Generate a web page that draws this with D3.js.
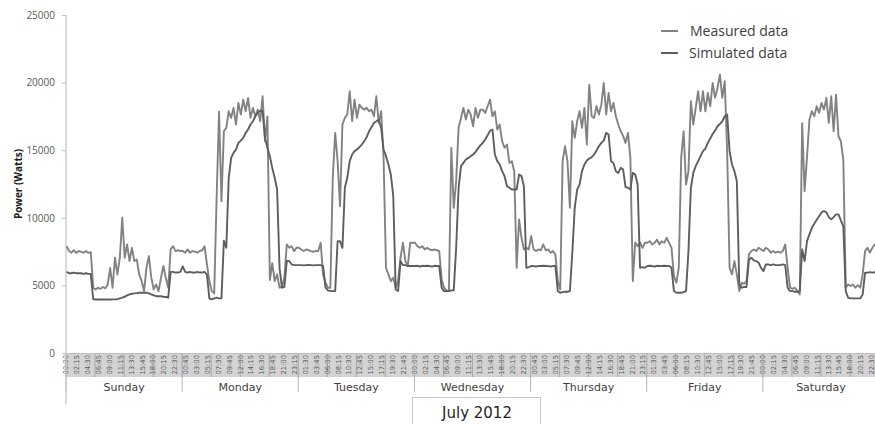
<!DOCTYPE html>
<html>
<head>
<meta charset="utf-8">
<script src="https://cdn.jsdelivr.net/npm/d3@7"></script>
<style>
  body { margin: 0; background: #fff; }
  svg { display: block; }
</style>
</head>
<body>
<div id="chart"></div>
<script>
// Days shown on the category axis (one week of 15-minute slots)
const days = ["Sunday", "Monday", "Tuesday", "Wednesday", "Thursday", "Friday", "Saturday"];

// Readings taken every half hour, one row per day (Watts)
const measured = [
  [7900,7550,7420,7600,7400,7550,7480,7420,7550,7400,7450,4830,4700,4830,4750,4880,4780,5070,6300,4830,7050,5810,7050,10000,7050,8030,6800,7780,6800,6920,5810,5320,4580,6300,7170,5570,4700,5070,4580,5570,6430,5570,4830,7660,7900,7540,7600,7540],
  [7550,7420,7660,7420,7540,7500,7420,7540,7600,7900,6550,5320,4580,4410,11480,17840,11230,16400,16650,17880,17390,18130,16900,18500,17640,18740,17880,18870,17390,18130,17500,18000,17140,18990,15660,17500,5400,6640,5320,5810,4830,4900,5570,8030,7780,7900,7540,7780],
  [7780,7660,7540,7660,7600,7540,7490,7540,7540,8150,5810,5200,4830,4830,12960,16280,14190,10860,16900,17390,17640,19360,17140,18740,17390,18370,18130,18000,18130,17880,18000,17510,18990,17020,17880,14430,6300,5810,5320,5570,4830,5320,7050,8150,6800,6430,8150,8150],
  [8150,7900,7780,7900,7660,7780,7660,7600,7660,7600,7540,5440,4830,4630,4600,15180,10740,12710,16650,17390,18130,17270,18000,17640,16770,18130,17390,18000,18000,17760,18250,18740,17510,17880,16530,16900,15660,15180,15420,14060,14190,13450,6300,9880,8520,7660,7780,7660],
  [8650,7660,7540,7660,7600,8030,7600,7660,7420,7540,7290,5320,4700,14190,15300,14190,10740,17140,15910,17140,17880,16650,18130,15420,19850,17510,17390,18250,17640,18370,19970,17640,19240,17880,18500,17510,16900,16400,16060,15540,16280,14430,5320,8180,7900,8180,7780,8150],
  [8150,8270,8030,8150,8390,8030,8270,8150,8520,8150,7780,5690,5200,6300,14430,16400,12460,13450,18620,16900,18130,19360,17880,19360,17880,19240,18250,19970,18870,19600,20590,18870,20100,14930,6300,5810,6800,5810,4580,5200,5120,5320,7290,7540,7660,7540,7780,7660],
  [7540,7780,7660,7420,7540,7420,7490,7420,7540,8030,6300,4830,4750,4830,4580,4330,17000,11970,14510,17270,17880,17510,18250,17760,18500,18000,18870,17020,18990,16400,19110,16030,15660,14310,4830,5070,4950,5070,4830,5020,4830,5810,7540,7780,7420,7780,8030,7900]
];

const simulated = [
  [6000,5900,5900,5950,5900,5900,5900,5850,5900,5850,5850,3970,3960,3970,3960,3970,3960,3970,3960,3970,3970,3980,4040,4090,4160,4260,4330,4380,4410,4430,4460,4460,4460,4460,4410,4330,4260,4200,4200,4200,4160,4140,4090,6000,6000,5950,5950,6000],
  [6400,6000,5950,6000,5950,5950,6000,5950,5950,6000,5800,4030,3970,4040,4090,4040,4040,8300,7780,12960,14430,14800,15050,15540,15710,15910,16280,16530,16900,17140,17510,17760,17930,17880,15910,15170,14560,13690,12960,12090,6300,4830,4880,6800,6800,6550,6500,6500],
  [6500,6500,6480,6500,6520,6500,6480,6500,6500,6500,6430,4830,4630,4580,4580,4580,8270,8270,7780,12220,12960,14190,14680,14930,15050,15220,15420,15660,15960,16400,16700,17020,17140,17270,16650,15050,14560,13940,13200,11600,4700,4580,6800,6500,6500,6430,6430,6430],
  [6430,6450,6400,6450,6430,6450,6430,6400,6450,6430,6430,4830,4580,4580,4580,4630,4630,7800,12200,13820,14060,14310,14430,14560,14680,14880,15120,15370,15540,15790,16110,16450,16530,14680,14190,13940,13450,13080,12340,12220,12090,12090,12090,13200,13080,12340,6300,6350],
  [6430,6430,6400,6430,6430,6450,6430,6430,6400,6430,6430,4580,4460,4500,4530,4530,4580,7410,10740,12090,12460,13450,13940,14240,14380,14480,14680,14980,15300,15540,15710,16280,16160,14190,14060,13450,13320,13690,13570,12270,12220,12090,13320,13200,12460,6300,6350,6300],
  [6430,6450,6430,6400,6450,6430,6430,6450,6430,6430,6300,4580,4460,4460,4460,4500,4580,7540,12220,13320,13820,14190,14560,14930,15120,15540,15860,16200,16450,16770,16940,17140,17510,17640,14930,13940,13450,12710,5070,4830,4880,4880,6920,7050,6850,6800,6680,6300],
  [6060,6550,6550,6500,6550,6500,6500,6500,6550,6500,4830,4580,4580,4530,4530,4580,7660,6800,8270,8770,9260,9560,9850,10120,10400,10500,10400,10050,9880,10050,10250,10250,9800,9380,4580,4090,4040,4040,4040,4040,4040,4330,5940,5940,5980,5940,5980,5940]
];

const yTicks = [0, 5000, 10000, 15000, 20000, 25000];
const seriesNames = ["Measured data", "Simulated data"];
const seriesColors = ["#828282", "#5e5e5e"];
const periodLabel = "July 2012";

// Chart geometry
const width = 875;
const height = 424;
const plot = { left: 66, right: 879, top: 15, bottom: 353 };
const bandBottom = 377;   // grey time-label band
const slotsPerDay = 96;   // 15-minute categories

const svg = d3.select("#chart")
    .append("svg")
    .attr("width", width)
    .attr("height", height);

svg.append("rect").attr("width", width).attr("height", height).attr("fill", "#fff");

// Scales
const slots = d3.range(days.length * slotsPerDay);
const x = d3.scaleBand().domain(slots).range([plot.left, plot.right]);
const y = d3.scaleLinear().domain([0, 25000]).range([plot.bottom, plot.top]);
const cx = s => x(s) + x.bandwidth() / 2;

// time label for a slot inside a day
const timeLabel = s => {
    const m = (s % slotsPerDay) * 15;
    return String(Math.floor(m / 60)).padStart(2, "0") + ":" + String(m % 60).padStart(2, "0");
};

// Grey category band under the plot
svg.append("rect")
    .attr("x", plot.left)
    .attr("y", plot.bottom)
    .attr("width", plot.right - plot.left)
    .attr("height", bandBottom - plot.bottom)
    .attr("fill", "#d3d3d3");

// Six-hour separators inside the band
svg.append("g")
    .selectAll("line")
    .data(d3.range(0, slots.length, 24))
    .join("line")
    .attr("x1", d => x(d)).attr("x2", d => x(d))
    .attr("y1", plot.bottom).attr("y2", bandBottom)
    .attr("stroke", "#a8a8a8")
    .attr("stroke-width", 1);

// Time labels
const xAxis = d3.axisBottom(x)
    .tickValues(d3.range(0, slots.length, 9))
    .tickFormat(timeLabel)
    .tickSize(0);

svg.append("g")
    .attr("class", "x-axis")
    .attr("transform", `translate(0, ${plot.bottom})`)
    .call(xAxis)
    .call(g => g.select(".domain").attr("stroke", "#bfbfbf"))
    .selectAll("text")
    .attr("transform", "rotate(-90)")
    .attr("x", -2)
    .attr("y", 0)
    .attr("dy", "0.26em")
    .attr("text-anchor", "end")
    .attr("fill", "#5a5a5a")
    .style("font-family", "DejaVu Sans")
    .style("font-size", "6.8px");

// Day separators and names
svg.append("g")
    .selectAll("line")
    .data(d3.range(0, slots.length + 1, slotsPerDay))
    .join("line")
    .attr("x1", d => d < slots.length ? x(d) : plot.right)
    .attr("x2", d => d < slots.length ? x(d) : plot.right)
    .attr("y1", plot.bottom)
    .attr("y2", 392)
    .attr("stroke", "#b4b4b4")
    .attr("stroke-width", 1);

svg.append("g")
    .selectAll("text")
    .data(days)
    .join("text")
    .attr("x", (d, i) => x(i * slotsPerDay) + x.bandwidth() * slotsPerDay / 2)
    .attr("y", 391)
    .attr("text-anchor", "middle")
    .attr("fill", "#404040")
    .style("font-family", "DejaVu Sans")
    .style("font-size", "11px")
    .text(d => d);

// Y axis
const yAxis = d3.axisLeft(y)
    .tickValues(yTicks)
    .tickFormat(d3.format("d"))
    .tickSize(4)
    .tickPadding(7);

svg.append("g")
    .attr("class", "y-axis")
    .attr("transform", `translate(${plot.left}, 0)`)
    .call(yAxis)
    .call(g => g.select(".domain").remove())
    .call(g => g.selectAll("line").attr("stroke", "#bfbfbf"))
    .call(g => g.selectAll("text")
        .attr("fill", "#595959")
        .style("font-family", "Open Sans")
        .style("font-size", "10px"));

svg.append("line")
    .attr("x1", plot.left).attr("x2", plot.left)
    .attr("y1", plot.top).attr("y2", 404)
    .attr("stroke", "#c4c4c4")
    .attr("stroke-width", 1.3);

svg.append("text")
    .attr("transform", "translate(22, 184) rotate(-90)")
    .attr("text-anchor", "middle")
    .attr("fill", "#1a1a1a")
    .style("font-family", "Open Sans")
    .style("font-weight", "bold")
    .style("font-size", "10px")
    .text("Power (Watts)");

// Series lines
const line = d3.line()
    .x(d => cx(d.slot))
    .y(d => y(d.value));

const toPoints = rows => rows.flatMap((row, d) =>
    row.map((v, t) => ({ slot: d * slotsPerDay + t * 2, value: v })));

[measured, simulated].forEach((rows, i) => {
    svg.append("path")
        .datum(toPoints(rows))
        .attr("fill", "none")
        .attr("stroke", seriesColors[i])
        .attr("stroke-width", 1.9)
        .attr("stroke-linejoin", "round")
        .attr("d", line);
});

// Legend
const legend = svg.append("g").attr("class", "legend");
seriesNames.forEach((name, i) => {
    legend.append("line")
        .attr("x1", 661).attr("x2", 678)
        .attr("y1", 31 + i * 22).attr("y2", 31 + i * 22)
        .attr("stroke", seriesColors[i])
        .attr("stroke-width", 2);
    legend.append("text")
        .attr("x", 690 - i)
        .attr("y", 36 + i * 22)
        .attr("fill", "#404040")
        .style("font-family", "Open Sans")
        .style("font-size", "14px")
        .text(name);
});

// Period box under the axis
svg.append("rect")
    .attr("x", 412.5)
    .attr("y", 397.5)
    .attr("width", 128)
    .attr("height", 40)
    .attr("fill", "#fff")
    .attr("stroke", "#c8c8c8");

svg.append("text")
    .attr("x", 477)
    .attr("y", 418)
    .attr("text-anchor", "middle")
    .attr("fill", "#262626")
    .style("font-family", "DejaVu Sans")
    .style("font-size", "15px")
    .text(periodLabel);
</script>
</body>
</html>
